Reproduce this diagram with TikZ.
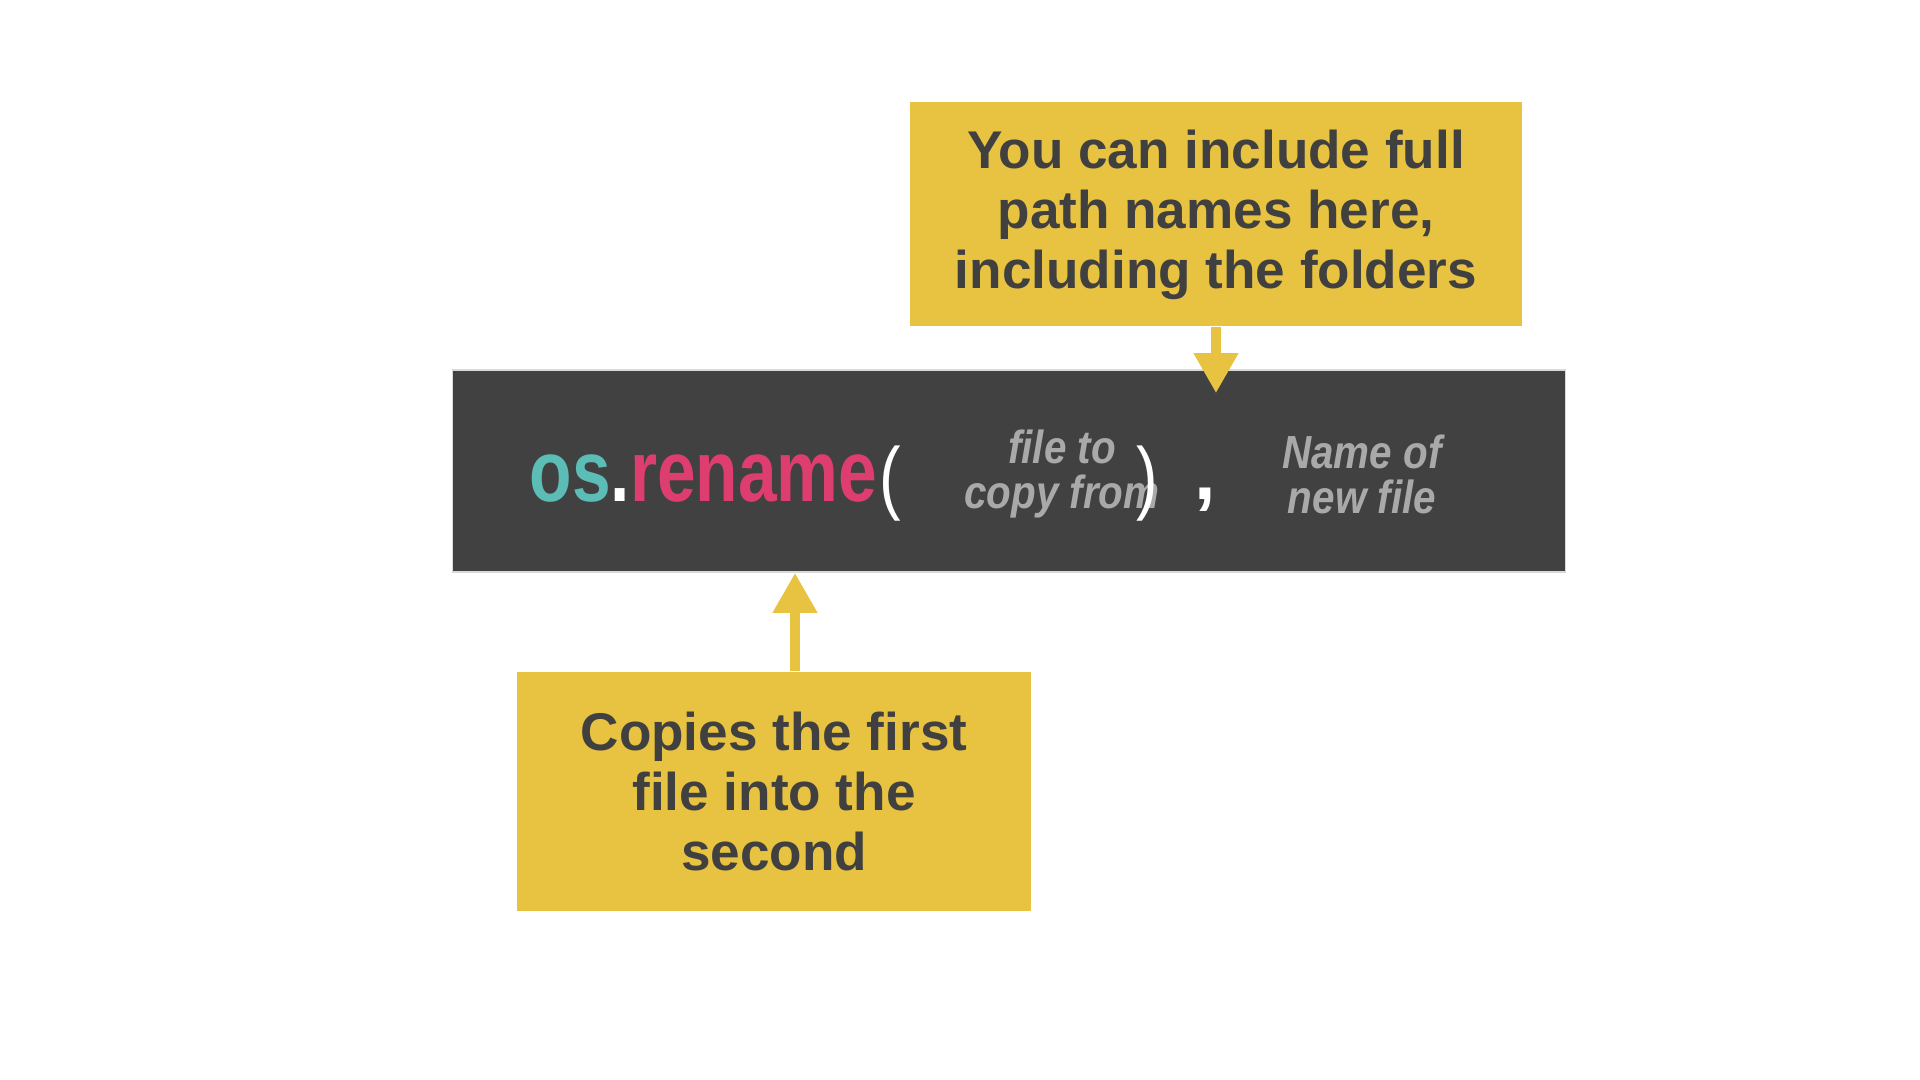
\documentclass[tikz,border=0pt]{standalone}
\usepackage{fontspec}
\setmainfont{Liberation Sans}
\newfontfamily\codefont[FakeStretch=0.8]{Liberation Sans}
\newfontfamily\argfont[FakeStretch=0.87]{Liberation Sans}
\usepackage{xcolor}
\usetikzlibrary{arrows.meta, positioning}
\definecolor{noteyellow}{HTML}{E8C241}
\definecolor{notetext}{HTML}{404040}
\definecolor{codebg}{HTML}{414141}
\definecolor{osteal}{HTML}{5BBDB5}
\definecolor{fnpink}{HTML}{DD3D6F}
\definecolor{arggray}{HTML}{A9A9A9}

\begin{document}
\begin{tikzpicture}[x=0.01cm, y=-0.01cm,
        note/.style={fill=noteyellow, text=notetext, align=center, inner sep=0pt,
          font=\fontsize{15.1}{17.1}\selectfont\bfseries},
        pointer/.style={draw=noteyellow, line width=0.1cm,
          -{Triangle[width=0.42cm, length=0.4cm]}},
        argtext/.style={text=arggray, align=center, inner sep=0pt,
          font=\argfont\fontsize{13.2}{12.8}\selectfont\bfseries\itshape},
        paren/.style={text=white, inner sep=0pt, font=\codefont\fontsize{23}{23}\selectfont}]
        \useasboundingbox (0,0) rectangle (1920,1080);
        \node[note, minimum width=6.12cm, minimum height=2.24cm, text depth=0.1cm] (pathbox) at (1216,214)
            {You can include full\\path names here,\\including the folders};
        \node[fill=codebg, draw=black!15, line width=0.4pt, inner sep=0pt,
            minimum width=11.12cm, minimum height=2.02cm] (codebar) at (1009,471) {};
        \node[note, minimum width=5.14cm, minimum height=2.39cm] (copybox) at (774,791.5)
            {Copies the first\\file into the\\second};
        \node[anchor=base west, inner sep=0pt,
            font=\codefont\fontsize{24.7}{24.7}\selectfont\bfseries] (call) at (529,502)
            {\textcolor{osteal}{os}\textcolor{white}{.}\textcolor{fnpink}{rename}};
        \node[paren] (open) at (890,484) {(};
        \node[argtext] (source) at (1062,474) {file to\\copy from};
        \node[paren] (close) at (1147,484) {)};
        \node[text=white, inner sep=0pt, font=\fontsize{22}{22}\selectfont\bfseries] (comma) at (1205,500) {,};
        \node[argtext] (target) at (1362,474) {Name of\\new file};
        \draw[pointer] (pathbox.south) -- ([yshift=-0.24cm]pathbox.south |- codebar.north);
        \draw[pointer] ([xshift=0.21cm]copybox.north) -- ([xshift=0.21cm]copybox.north |- codebar.south);
\end{tikzpicture}
\end{document}
